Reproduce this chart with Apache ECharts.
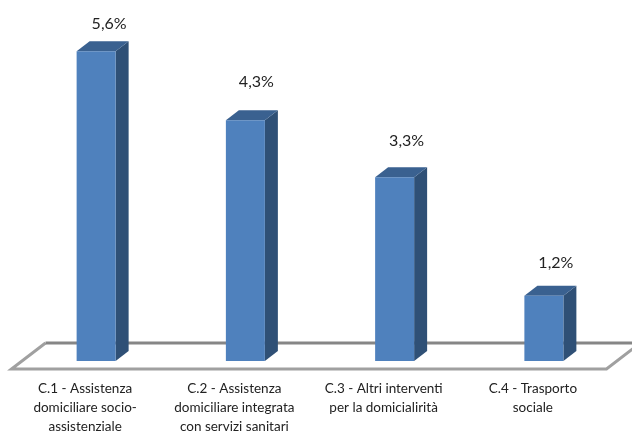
<!DOCTYPE html>
<html><head><meta charset="utf-8">
<style>html,body{margin:0;padding:0;background:#fff}#c{width:632px;height:432px}</style>
<script src="https://cdn.jsdelivr.net/npm/echarts@6/dist/echarts.min.js"></script>
</head><body><div id="c"></div>
<script>
const categories = ['C.1 - Assistenza\ndomiciliare socio-\nassistenziale','C.2 - Assistenza\ndomiciliare integrata\ncon servizi sanitari','C.3 - Altri interventi\nper la domicialirità','C.4 - Trasporto\nsociale'];
const values = [5.6, 4.35, 3.32, 1.18];
const valueLabels = ['5,6%','4,3%','3,3%','1,2%'];
const labelLift = [17, 28, 26, 23];
const labelShift = [13, 11, 12, 12];
const DX = 13, DY = 10, W = 39;
const chart = echarts.init(document.getElementById('c'), null, {renderer:'canvas'});

function renderFloor(params, api){
  const cs = params.coordSys;
  const base = cs.y + cs.height;
  const style = {fill:'none', stroke:'#868686', lineWidth:3, lineJoin:'miter'};
  const lw = cs.x - 10, rf = cs.x + cs.width - 12;
  return {type:'group', silent:true, children:[
    {type:'polyline', shape:{points:[[lw+34,base-18],[lw,base+8],[rf,base+8],[rf+30,base-15]]}, style:{...style, stroke:'#a0a0a0'}},
    {type:'line', shape:{x1:lw+34,y1:base-18,x2:640,y2:base-18}, style}
  ]};
}
function renderBar(params, api){
  const i = api.value(0);
  const top = api.coord([i, api.value(1)]);
  const bot = api.coord([i, 0]);
  const x = top[0]-W/2, x2 = x+W, y = top[1], b = bot[1];
  return {type:'group', children:[
    {type:'polygon', shape:{points:[[x2,y],[x2+DX,y-DY],[x2+DX,b-DY],[x2,b]]}, style:{fill:'#2f5076'}},
    {type:'polygon', shape:{points:[[x,y],[x+DX,y-DY],[x2+DX,y-DY],[x2,y]]}, style:{fill:'#3a6190'}},
    {type:'rect', shape:{x:x,y:y,width:W,height:b-y}, style:{fill:'#4f81bd'}},
    {type:'text', x:top[0]+labelShift[i], y:y-DY-labelLift[i], style:{text:valueLabels[i], fill:'#222', font:'16px Lato', align:'center', verticalAlign:'middle'}}
  ]};
}
chart.setOption({
  animation:false,
  grid:{left:21.5,right:13.5,top:29,bottom:71,outerBoundsMode:'none'},
  xAxis:{type:'category',data:categories,axisLine:{show:false},axisTick:{show:false},
    axisLabel:{interval:0,color:'#222',fontFamily:'Lato',fontSize:13.5,lineHeight:19,margin:18,padding:[0,22,0,0]}},
  yAxis:{type:'value',min:0,max:6,show:false,splitLine:{show:false}},
  series:[
    {type:'custom',renderItem:renderFloor,data:[[0,0]],clip:false,z:1},
    {type:'custom',renderItem:renderBar,data:values.map((v,i)=>[i,v]),encode:{x:0,y:1},clip:false,z:2}
  ]
});
</script></body></html>
